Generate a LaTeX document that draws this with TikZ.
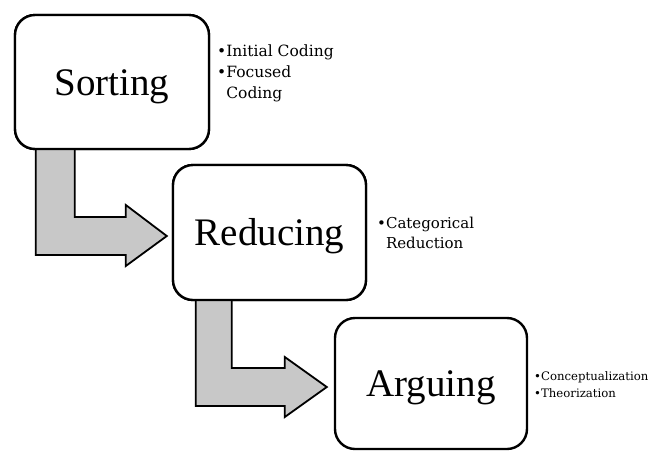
\documentclass[tikz,border=0pt]{standalone}
\usepackage{fontspec}
\setmainfont{Liberation Serif}
\newfontfamily\notefont{DejaVu Serif}
\usetikzlibrary{calc}

\tikzset{
  stage/.style={draw, line width=2.4pt, rounded corners=20pt, fill=white,
    font=\fontsize{39}{39}\selectfont, text height=26pt, text depth=0pt,
    inner sep=0pt},
  blockarrow/.style={draw, line width=1.8pt, line join=miter,
    fill={rgb,255:red,200;green,200;blue,200}},
  note/.style={anchor=base west, inner sep=0pt, align=left},
}

\begin{document}
\begin{tikzpicture}[x=1pt, y=-1pt]
  \useasboundingbox (0,0) rectangle (657,451);

  % process stages (placed first so the arrows can refer to them)
  \node[stage, minimum width=194pt, minimum height=134pt] (sort) at (112,82) {Sorting};
  \node[stage, minimum width=193pt, minimum height=135pt] (red) at (269.5,232.5) {Reducing};
  \node[stage, minimum width=192pt, minimum height=131pt] (arg) at (431,383.5) {Arguing};

  % arrow tips, just left of the next stage
  \coordinate (tipA) at ([xshift=-5pt, yshift=-3.5pt]red.west);
  \coordinate (tipB) at ([xshift=-7pt, yshift=-3.5pt]arg.west);

  % L-shaped block arrows
  \draw[blockarrow] let \p1=([xshift=22pt, yshift=4pt]sort.south west), \p2=(tipA) in
    (\x1,\y1) -- (\x1,\y2-19pt) -- (\x2-41pt,\y2-19pt) -- (\x2-41pt,\y2-30pt)
    -- (\p2) -- (\x2-41pt,\y2+31pt) -- (\x2-41pt,\y2+19pt) -- (\x1+39pt,\y2+19pt)
    -- (\x1+39pt,\y1) -- cycle;
  \draw[blockarrow] let \p1=([xshift=24pt, yshift=4pt]red.south west), \p2=(tipB) in
    (\x1,\y1) -- (\x1,\y2-19pt) -- (\x2-42pt,\y2-19pt) -- (\x2-42pt,\y2-30pt)
    -- (\p2) -- (\x2-42pt,\y2+30pt) -- (\x2-42pt,\y2+19pt) -- (\x1+36pt,\y2+19pt)
    -- (\x1+36pt,\y1) -- cycle;

  % redraw the upper stages on top of the arrow stems
  \node[stage, minimum width=194pt, minimum height=134pt] at (sort) {Sorting};
  \node[stage, minimum width=193pt, minimum height=135pt] at (red) {Reducing};

  % bullet notes
  \node[note, font=\notefont\fontsize{15.5}{21}\selectfont] (nsort) at (217,56)
    {\begin{tabular}[t]{@{}l@{}l@{}}•&Initial Coding\\•&Focused\\&Coding\end{tabular}};
  \node[note, font=\notefont\fontsize{15}{20}\selectfont] (nred) at (377,228.5)
    {\begin{tabular}[t]{@{}l@{}l@{}}•&Categorical\\&Reduction\end{tabular}};
  \node[note, font=\notefont\fontsize{11.7}{17}\selectfont] (narg) at (534,380.5)
    {\begin{tabular}[t]{@{}l@{}l@{}}•&Conceptualization\\•&Theorization\end{tabular}};
\end{tikzpicture}
\end{document}
